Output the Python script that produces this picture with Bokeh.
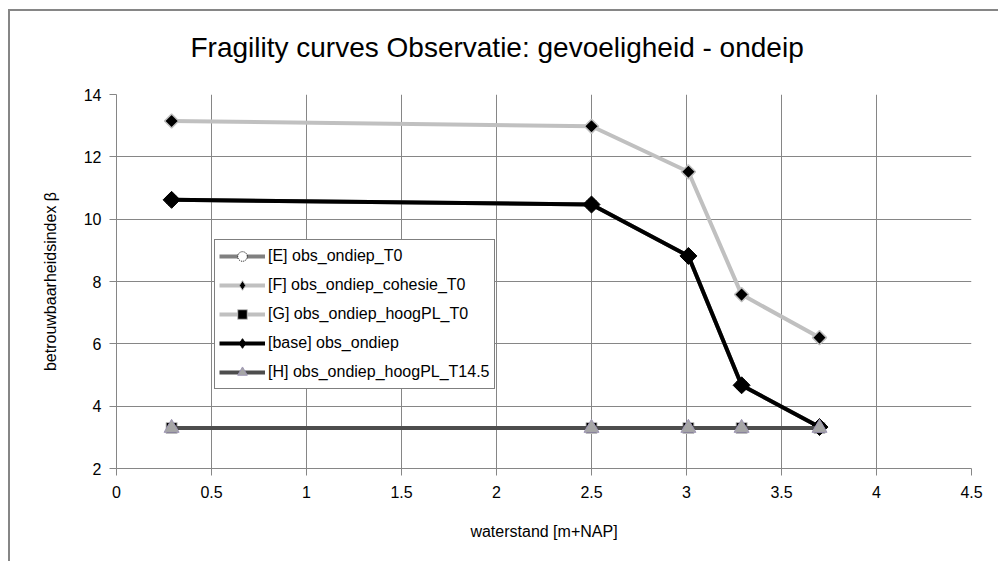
import math
from bokeh.plotting import figure
from bokeh.models import (Range1d, SingleIntervalTicker, CustomJSTickFormatter, Legend, LegendItem)
from bokeh.embed import file_html
from bokeh.resources import INLINE

# ---- data ----
x_vals = [0.29, 2.5, 3.01, 3.29, 3.7]
e_vals = [10.62, 10.47, 8.82, 4.67, 3.33]
f_vals = [13.15, 12.98, 11.52, 7.58, 6.2]
g_vals = [3.3, 3.3, 3.3, 3.3, 3.3]
base_vals = [10.62, 10.47, 8.82, 4.67, 3.33]
h_vals = [3.3, 3.3, 3.3, 3.3, 3.3]
labels = ["[E] obs_ondiep_T0", "[F] obs_ondiep_cohesie_T0", "[G] obs_ondiep_hoogPL_T0",
          "[base] obs_ondiep", "[H] obs_ondiep_hoogPL_T14.5"]
title_text = "Fragility curves Observatie: gevoeligheid - ondeip"
x_label = "waterstand [m+NAP]"
y_label = "betrouwbaarheidsindex \u03b2"

FONT = "Liberation Sans"
GRID = "#868686"

W, H = 998, 561
p = figure(width=W, height=H, output_backend="svg", toolbar_location=None,
           x_range=Range1d(0, 4.5), y_range=Range1d(2, 14),
           min_border_left=116, min_border_right=W - 971, min_border_top=94,
           min_border_bottom=H - 468, title=title_text)
# outer chart border (left and top edges) drawn as CSS background behind a transparent canvas border
p.styles = {"background":
            "linear-gradient(#868686,#868686) no-repeat 8px 9px / 100% 2px, "
            "linear-gradient(#868686,#868686) no-repeat 8px 9px / 2px 100%, white"}
p.outline_line_color = None
p.background_fill_color = "white"
p.border_fill_color = None

p.title.align = "left"
p.title.offset = 74
p.title.vertical_align = "top"
p.title.text_font = FONT
p.title.text_font_size = "28px"
p.title.text_font_style = "normal"
p.title.text_color = "black"
p.title.standoff = 60

for ax in (p.xaxis[0], p.yaxis[0]):
    ax.axis_line_color = GRID
    ax.major_tick_line_color = GRID
    ax.major_tick_in = 0
    ax.major_tick_out = 7
    ax.minor_tick_line_color = None
    ax.major_label_text_font = FONT
    ax.major_label_text_font_size = "16px"
    ax.major_label_text_color = "black"
    ax.axis_label_text_font = FONT
    ax.axis_label_text_font_size = "16px"
    ax.axis_label_text_font_style = "normal"
    ax.axis_label_text_color = "black"
    ax.formatter = CustomJSTickFormatter(code="return tick.toString();")

p.xaxis[0].ticker = SingleIntervalTicker(interval=0.5)
p.yaxis[0].ticker = SingleIntervalTicker(interval=2)
p.xaxis[0].axis_label = x_label
p.yaxis[0].axis_label = y_label
p.xaxis[0].major_label_standoff = 10
p.yaxis[0].major_label_standoff = 8
p.xaxis[0].axis_label_standoff = 22
p.yaxis[0].axis_label_standoff = 22

for g in (p.xgrid[0], p.ygrid[0]):
    g.grid_line_color = GRID
    g.grid_line_width = 1

rot = math.pi / 4
nan = float("nan")

# series
rE = p.line(x_vals, e_vals, line_color="#808080", line_width=4)
mE = p.scatter(x_vals, e_vals, marker="circle", size=12, fill_color="white",
               line_color="black", line_dash="1 1", line_width=1)
rF = p.line(x_vals, f_vals, line_color="#c0c0c0", line_width=4)
mF = p.scatter(x_vals, f_vals, marker="square", angle=rot, size=10, fill_color="black",
               line_color="#c0c0c0", line_width=1.5)
rG = p.line(x_vals, g_vals, line_color="#c0c0c0", line_width=4)
mG = p.scatter(x_vals, g_vals, marker="square", size=11, fill_color="black", line_color="#c0c0c0")
rB = p.line(x_vals, base_vals, line_color="black", line_width=4)
mB = p.scatter(x_vals, base_vals, marker="square", angle=rot, size=12, fill_color="black",
               line_color="black")
rH = p.line(x_vals, h_vals, line_color="#4d4d4d", line_width=4)
mH = p.scatter(x_vals, h_vals, marker="triangle", size=15, fill_color="#a6a6a6",
               line_color="#9f97b5", line_width=1)

# legend-only diamond glyphs (legend ignores marker rotation)
lF = p.scatter([nan], [nan], marker="diamond", size=13, fill_color="black",
               line_color="#c0c0c0", line_width=1)
lB = p.scatter([nan], [nan], marker="diamond", size=17, fill_color="black", line_color="black")

items = [LegendItem(label=labels[0], renderers=[rE, mE]),
         LegendItem(label=labels[1], renderers=[rF, lF]),
         LegendItem(label=labels[2], renderers=[rG, mG]),
         LegendItem(label=labels[3], renderers=[rB, lB]),
         LegendItem(label=labels[4], renderers=[rH, mH])]
legend = Legend(items=items, location=(98, 79), border_line_color="black", border_line_width=1,
                background_fill_color="white", background_fill_alpha=1,
                label_text_font=FONT, label_text_font_size="16px", label_text_color="black",
                glyph_width=46, glyph_height=24, label_height=24, spacing=5, padding=4,
                margin=0, label_standoff=3)
p.add_layout(legend, "center")

open("out.html", "w").write(file_html(p, INLINE))
